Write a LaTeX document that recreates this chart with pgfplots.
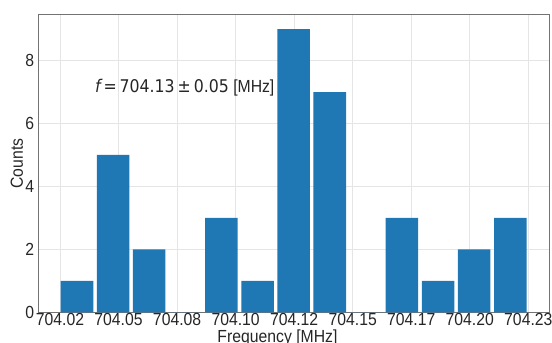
\documentclass[border=0pt]{standalone}
\usepackage{fontspec}
\setmainfont[FakeStretch=0.9]{Liberation Sans}
\newfontfamily\dv[FakeStretch=0.9]{DejaVu Sans}
\usepackage{pgfplots}
\pgfplotsset{compat=1.18}
\definecolor{barblue}{RGB}{31,119,180}
\definecolor{txt}{RGB}{38,38,38}
\begin{document}
\begin{tikzpicture}
\begin{axis}[
  at={(0,0)}, anchor=south west,
  scale only axis, width=511bp, height=297.3bp,
  xmin=15.73, xmax=233.96, ymin=0, ymax=9.45,
  ybar, bar width=13.9,
  xtick={25,50,75,100,125,150,175,200,225},
  xticklabels={704.02,704.05,704.08,704.10,704.12,704.15,704.17,704.20,704.23},
  ytick={0,2,4,6,8},
  yticklabels={0,2,4,6,8},
  /pgf/number format/assume math mode=true,
  major tick length=0pt,
  tick label style={font=\fontsize{17.5bp}{20bp}\selectfont, text=txt},
  xticklabel style={inner sep=0pt, anchor=north, yshift=-1bp},
  yticklabel style={inner sep=0pt, anchor=east, xshift=-4bp},
  grid=major,
  major grid style={draw=black!10, line width=0.8bp},
  axis line style={draw=black!55, line width=1bp},
  xlabel={Frequency [MHz]},
  ylabel={Counts},
  label style={font=\fontsize{17.5bp}{20bp}\selectfont, text=txt},
  xlabel style={at={(axis description cs:0.468,0)}, anchor=base, inner sep=0pt, yshift=-30.5bp},
  ylabel style={at={(axis description cs:-0.030,0.5)}, anchor=base, inner sep=0pt, rotate=0},
]
\addplot[fill=barblue, draw=none] coordinates {
 (32.26,1) (47.68,5) (63.10,2) (78.52,0) (93.94,3) (109.36,1) (124.78,9)
 (140.20,7) (155.62,0) (171.04,3) (186.46,1) (201.88,2) (217.30,3)
};
\node[anchor=west, inner sep=0pt, text=txt, font=\fontsize{17.5bp}{20bp}\selectfont] at (axis cs:39.9,7.15)
  {{\dv\itshape f}{\dv\,=\,704.13\,±\,0.05} [MHz]};
\end{axis}
\pgfresetboundingbox
\useasboundingbox (-38.3bp,-30.7bp) rectangle (513.7bp,312.3bp);
\end{tikzpicture}
\end{document}
